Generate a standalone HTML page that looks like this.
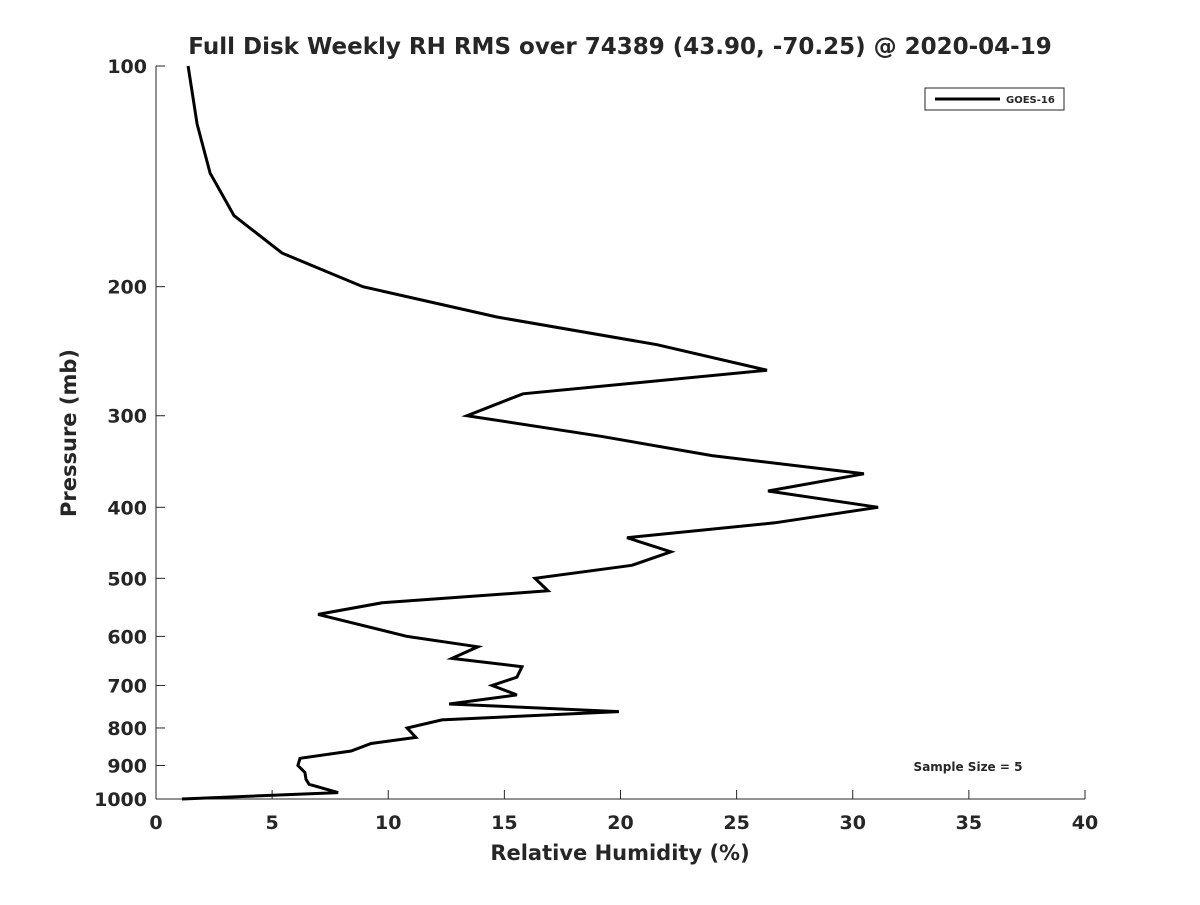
<!DOCTYPE html>
<html><head><meta charset="utf-8"><style>
body{margin:0;background:#fff;font-family:"Liberation Sans","DejaVu Sans",sans-serif}
svg text{font-family:"DejaVu Sans","Liberation Sans",sans-serif;font-weight:bold;fill:#262626}
</style></head><body>
<svg width="1200" height="900">
<rect width="1200" height="900" fill="#fff"/>
<text x="620" y="54" font-size="23" text-anchor="middle">Full Disk Weekly RH RMS over 74389 (43.90, -70.25) @ 2020-04-19</text>
<g id="axes"></g>
<g id="plot"></g>
<rect x="925" y="88" width="139" height="22" fill="#fff" stroke="#262626" stroke-width="1"/>
<line x1="935" y1="99" x2="1000" y2="99" stroke="#000" stroke-width="3"/>
<text x="1006" y="103" font-size="10" fill="#000">GOES-16</text>
<text x="968" y="771" font-size="12" text-anchor="middle" fill="#000">Sample Size = 5</text>
<text x="620" y="860" font-size="21" text-anchor="middle">Relative Humidity (%)</text>
<text transform="translate(76,433) rotate(-90)" font-size="21" text-anchor="middle">Pressure (mb)</text>
</svg>
<script>
const xTicks=[0,5,10,15,20,25,30,35,40];
const yTicks=[100,200,300,400,500,600,700,800,900,1000];
const pressure=[100,120,140,160,180,200,220,240,260,280,300,320,340,360,380,400,420,440,460,480,500,520,540,560,600,620,643,660,682,700,721,742,760,780,800,824,840,860,880,900,920,940,955,980,1000];
const rh=[1.38,1.77,2.33,3.36,5.43,8.91,14.68,21.57,26.31,15.80,13.39,19.16,23.94,30.48,26.35,31.09,26.65,20.28,22.17,20.49,16.32,16.88,9.73,6.98,10.81,13.86,12.74,15.76,15.54,14.47,15.54,12.62,19.93,12.31,10.81,11.19,9.26,8.40,6.20,6.11,6.41,6.46,6.59,7.84,1.12];
const X0=156,X1=1085,Y0=66,Y1=799;
const xs=v=>X0+(v-0)/40*(X1-X0);
const ys=p=>Y0+Math.log10(p/100)*(Y1-Y0);
const NS="http://www.w3.org/2000/svg";
const axes=document.getElementById('axes'),plot=document.getElementById('plot');
function mk(tag,attrs,parent){const e=document.createElementNS(NS,tag);for(const k in attrs)e.setAttribute(k,attrs[k]);parent.appendChild(e);return e;}
let l=mk('line',{x1:X0,y1:Y1,x2:X1,y2:Y1,stroke:'#262626','stroke-width':1},axes);


l=mk('line',{x1:X0,y1:Y0,x2:X0,y2:Y1,stroke:'#262626','stroke-width':1},axes);


xTicks.forEach(v=>{const x=xs(v);
 mk('line',{x1:x,y1:Y1,x2:x,y2:Y1-9,stroke:'#262626'},axes);
 const t=mk('text',{x:x,y:829,'font-size':19,'text-anchor':'middle'},axes);t.textContent=v;
 
 });
yTicks.forEach(p=>{const y=ys(p);
 mk('line',{x1:X0,y1:y,x2:X0+9,y2:y,stroke:'#262626'},axes);
 const t=mk('text',{x:147,y:y+7,'font-size':19,'text-anchor':'end'},axes);t.textContent=p;
 
 });
const pts=pressure.map((p,i)=>xs(rh[i]).toFixed(1)+','+ys(p).toFixed(1)).join(' ');
const pl=mk('polyline',{points:pts,fill:'none',stroke:'#000','stroke-width':3,'stroke-linejoin':'miter'},plot);


</script>
</body></html>
